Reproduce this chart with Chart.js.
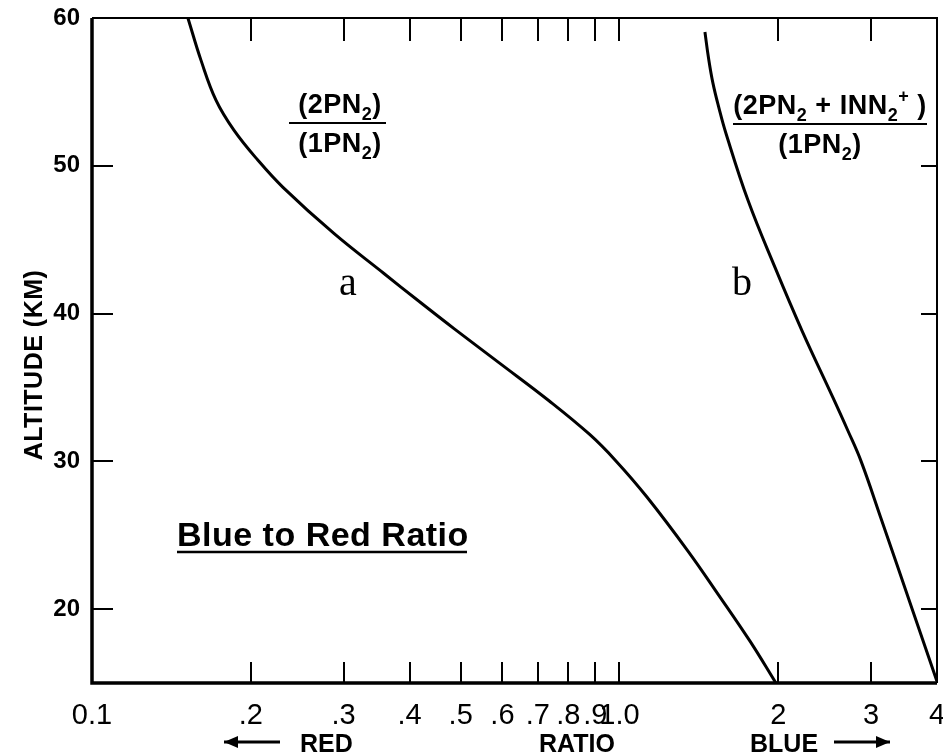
<!DOCTYPE html>
<html>
<head>
<meta charset="utf-8">
<script src="https://cdn.jsdelivr.net/npm/chart.js@4/dist/chart.umd.min.js"></script>
<style>
  html, body { margin: 0; padding: 0; background: #fff; }
  #wrap { width: 943px; height: 755px; position: relative; }
</style>
</head>
<body>
<div id="wrap"><canvas id="chart" width="943" height="755"></canvas></div>
<script>
// curve a: (2PN2)/(1PN2)
const ratioA = [0.152, 0.1609, 0.1718, 0.1858, 0.2064, 0.2302, 0.2875, 0.3577, 0.415, 0.4857, 0.5908, 0.7352, 0.8792, 0.9848, 1.1275, 1.3487, 1.5374, 1.7681, 1.98];
const altA   = [60, 57.15, 54.44, 52.41, 50.37, 48.54, 45.42, 42.71, 40.88, 38.98, 36.68, 34.1, 31.8, 30.03, 27.59, 23.93, 21.02, 17.83, 15.0];

// curve b: (2PN2 + INN2+)/(1PN2)
const ratioB = [1.4524, 1.4753, 1.504, 1.5442, 1.5917, 1.7527, 1.972, 2.2182, 2.54, 2.7114, 2.8698, 3.1306, 3.6008, 3.999];
const altB   = [59.05, 57.29, 55.59, 53.9, 52.2, 47.66, 43.12, 38.85, 34.31, 32.07, 30.03, 26.17, 19.86, 15.12];

const xTickValues = [0.1, 0.2, 0.3, 0.4, 0.5, 0.6, 0.7, 0.8, 0.9, 1.0, 2, 3, 4];
const xTickLabels = ['0.1', '.2', '.3', '.4', '.5', '.6', '.7', '.8', '.9', '1.0', '2', '3', '4'];
const yTickValues = [20, 30, 40, 50, 60];

const toPoints = (xs, ys) => xs.map((x, i) => ({ x: x, y: ys[i] }));

// draws text made of runs: [text, 'sub' | 'sup' | '']
function drawRuns(ctx, runs, cx, baseline, size) {
  const big = 'bold ' + size + 'px "Liberation Sans", Arial, sans-serif';
  const small = 'bold ' + Math.round(size * 0.66) + 'px "Liberation Sans", Arial, sans-serif';
  let total = 0;
  runs.forEach(r => {
    ctx.font = r[1] ? small : big;
    total += ctx.measureText(r[0]).width;
  });
  let x = cx - total / 2;
  runs.forEach(r => {
    ctx.font = r[1] ? small : big;
    let dy = 0;
    if (r[1] === 'sub') dy = size * 0.26;
    if (r[1] === 'sup') dy = -size * 0.45;
    ctx.fillText(r[0], x, baseline + dy);
    x += ctx.measureText(r[0]).width;
  });
}

function arrow(ctx, x1, x2, y, dir) {
  ctx.beginPath();
  ctx.lineWidth = 3;
  ctx.moveTo(x1, y);
  ctx.lineTo(x2, y);
  ctx.stroke();
  const tip = dir < 0 ? x1 : x2;
  ctx.beginPath();
  ctx.moveTo(tip, y);
  ctx.lineTo(tip - dir * 14, y - 6);
  ctx.lineTo(tip - dir * 14, y + 6);
  ctx.closePath();
  ctx.fill();
}

const noPad = s => { s.paddingLeft = 0; s.paddingRight = 0; s.paddingTop = 0; s.paddingBottom = 0; };

const framePlugin = {
  id: 'frame',
  afterDraw(chart) {
    const ctx = chart.ctx;
    const a = chart.chartArea;
    const xs = chart.scales.x, ys = chart.scales.y;
    ctx.save();
    ctx.strokeStyle = '#000';
    ctx.fillStyle = '#000';

    // frame
    ctx.lineWidth = 2;
    ctx.beginPath();
    ctx.moveTo(a.left, a.top); ctx.lineTo(a.right, a.top); ctx.lineTo(a.right, a.bottom);
    ctx.stroke();
    ctx.lineWidth = 3.5;
    ctx.beginPath();
    ctx.moveTo(a.left, a.top); ctx.lineTo(a.left, a.bottom); ctx.lineTo(a.right, a.bottom);
    ctx.stroke();

    // inward ticks
    ctx.lineWidth = 2;
    xTickValues.slice(1, -1).forEach(v => {
      const px = Math.round(xs.getPixelForValue(v));
      ctx.beginPath();
      ctx.moveTo(px, a.bottom); ctx.lineTo(px, a.bottom - 21);
      ctx.moveTo(px, a.top); ctx.lineTo(px, a.top + 23);
      ctx.stroke();
    });
    yTickValues.slice(0, -1).forEach(v => {
      const py = Math.round(ys.getPixelForValue(v));
      ctx.beginPath();
      ctx.moveTo(a.left, py); ctx.lineTo(a.left + 21, py);
      ctx.moveTo(a.right, py); ctx.lineTo(a.right - 16, py);
      ctx.stroke();
    });

    // curve labels
    ctx.textAlign = 'left';
    ctx.textBaseline = 'alphabetic';
    ctx.letterSpacing = '0.5px';
    drawRuns(ctx, [['(2PN', ''], ['2', 'sub'], [')', '']], 340, 113, 27);
    drawRuns(ctx, [['(1PN', ''], ['2', 'sub'], [')', '']], 340, 152, 27);
    drawRuns(ctx, [['(2PN', ''], ['2', 'sub'], [' + INN', ''], ['2', 'sub'], ['+', 'sup'], [' )', '']], 830, 114, 27);
    drawRuns(ctx, [['(1PN', ''], ['2', 'sub'], [')', '']], 820, 153, 27);
    ctx.lineWidth = 2;
    ctx.beginPath();
    ctx.moveTo(289, 123); ctx.lineTo(386, 123);
    ctx.moveTo(733, 124); ctx.lineTo(927, 124);
    ctx.stroke();

    ctx.letterSpacing = '0px';
    ctx.font = '40px "Liberation Serif", "Times New Roman", serif';
    ctx.textAlign = 'center';
    ctx.fillText('a', 348, 295);
    ctx.fillText('b', 742, 295);

    // box title
    ctx.textAlign = 'left';
    ctx.letterSpacing = '0.5px';
    ctx.font = 'bold 34px "Liberation Sans", Arial, sans-serif';
    ctx.fillText('Blue to Red Ratio', 177, 546);
    ctx.lineWidth = 2.5;
    ctx.beginPath();
    ctx.moveTo(177, 552); ctx.lineTo(467, 552);
    ctx.stroke();

    // y axis title
    ctx.letterSpacing = '0.5px';
    ctx.save();
    ctx.translate(35, 365);
    ctx.rotate(-Math.PI / 2);
    ctx.textAlign = 'center';
    ctx.textBaseline = 'middle';
    ctx.font = 'bold 25px "Liberation Sans", Arial, sans-serif';
    ctx.fillText('ALTITUDE (KM)', 0, 0);
    ctx.restore();

    // x axis captions
    ctx.letterSpacing = '0px';
    ctx.font = 'bold 25px "Liberation Sans", Arial, sans-serif';
    ctx.textAlign = 'left';
    ctx.fillText('RED', 300, 752);
    ctx.fillText('RATIO', 539, 752);
    ctx.fillText('BLUE', 750, 752);
    arrow(ctx, 224, 280, 742, -1);
    arrow(ctx, 834, 890, 742, 1);
    ctx.restore();
  }
};

new Chart(document.getElementById('chart'), {
  type: 'scatter',
  data: {
    datasets: [
      {
        label: 'a',
        data: toPoints(ratioA, altA),
        showLine: true,
        borderColor: '#000',
        borderWidth: 3,
        pointRadius: 0,
        tension: 0.4,
      },
      {
        label: 'b',
        data: toPoints(ratioB, altB),
        showLine: true,
        borderColor: '#000',
        borderWidth: 3,
        pointRadius: 0,
        tension: 0.4,
      },
    ],
  },
  options: {
    responsive: false,
    animation: false,
    layout: { autoPadding: false, padding: { left: 0, right: 6, top: 18, bottom: 0 } },
    plugins: { legend: { display: false }, tooltip: { enabled: false } },
    scales: {
      x: {
        type: 'logarithmic',
        min: 0.1,
        max: 4,
        afterBuildTicks: s => { s.ticks = xTickValues.map(v => ({ value: v })); },
        afterFit: s => { s.height = 72; noPad(s); },
        grid: { display: false, drawTicks: false },
        border: { display: false },
        ticks: {
          autoSkip: false,
          maxRotation: 0,
          padding: 16,
          color: '#000',
          font: { family: '"Liberation Sans Narrow", "Arial Narrow", "Liberation Sans", sans-serif', size: 29 },
          callback: (v, i) => xTickLabels[i],
        },
      },
      y: {
        min: 15,
        max: 60,
        afterBuildTicks: s => { s.ticks = yTickValues.map(v => ({ value: v })); },
        afterFit: s => { s.width = 92; noPad(s); },
        grid: { display: false, drawTicks: false },
        border: { display: false },
        ticks: {
          padding: 12,
          color: '#000',
          font: { family: '"Liberation Sans", Arial, sans-serif', size: 24, weight: 'bold' },
        },
      },
    },
  },
  plugins: [framePlugin],
});
</script>
</body>
</html>
